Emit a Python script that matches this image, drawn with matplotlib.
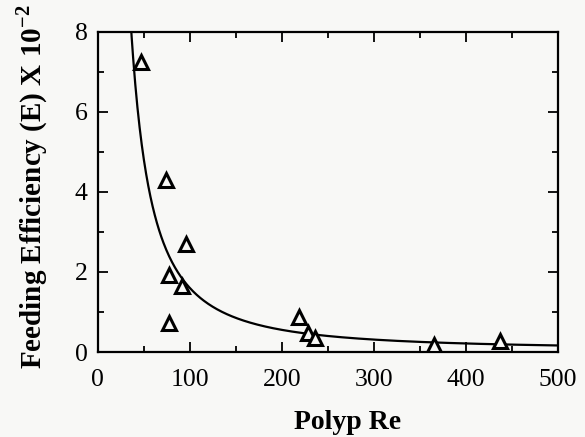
import matplotlib
matplotlib.use("Agg")
import matplotlib.pyplot as plt
import numpy as np

plt.rcParams.update({
    "font.family": ["Liberation Serif", "DejaVu Serif"],
    "mathtext.fontset": "custom",
    "mathtext.rm": "Liberation Serif",
    "mathtext.bf": "Liberation Serif:bold",
})

# measured points (polyp Reynolds number vs feeding efficiency x 10^-2)
polyp_re = [47.5, 74.7, 77.5, 78.0, 92.0, 95.7, 218.8, 228.6, 235.9, 365.5, 437.0]
efficiency = [7.26, 4.30, 1.93, 0.72, 1.65, 2.70, 0.88, 0.47, 0.34, 0.17, 0.27]

# fitted curve E = a * Re^b + c (parameters)
fit_a = 2794.0
fit_b = -1.627
fit_c = 0.05

BG = "#f8f8f6"

fig = plt.figure(figsize=(5.85, 4.37), dpi=100, facecolor=BG)
ax = fig.add_axes([0.1667, 0.1945, 0.7871, 0.7323], facecolor=BG)

re_line = np.linspace(30, 500, 600)
ax.plot(re_line, fit_a * re_line ** fit_b + fit_c, color="black", lw=1.6, zorder=2)
ax.plot(polyp_re, efficiency, linestyle="none", marker="^", ms=10,
        mfc=BG, mec="black", mew=2.2, zorder=3)

ax.set_xlim(0, 500)
ax.set_ylim(0, 8)
ax.set_xticks([0, 100, 200, 300, 400, 500])
ax.set_yticks([0, 2, 4, 6, 8])
ax.set_xticks(np.arange(50, 500, 100), minor=True)
ax.set_yticks(np.arange(1, 8, 2), minor=True)

for s in ax.spines.values():
    s.set_linewidth(1.6)
ax.tick_params(which="both", direction="in", top=True, right=True, width=1.3)
ax.tick_params(which="major", length=7)
ax.tick_params(which="minor", length=4)
ax.tick_params(axis="x", labelsize=18.5, pad=12)
ax.tick_params(axis="y", labelsize=18.5, pad=7)

ax.set_xlabel("Polyp Re", fontsize=20, fontweight="bold")
ax.xaxis.set_label_coords(0.544, -0.18)
ax.set_ylabel(r"Feeding Efficiency (E) X 10$^{\mathbf{-2}}$", fontsize=21,
              fontweight="bold")
ax.yaxis.set_label_coords(-0.103, 0.517)

fig.savefig("out.png", dpi=100, facecolor=BG)
